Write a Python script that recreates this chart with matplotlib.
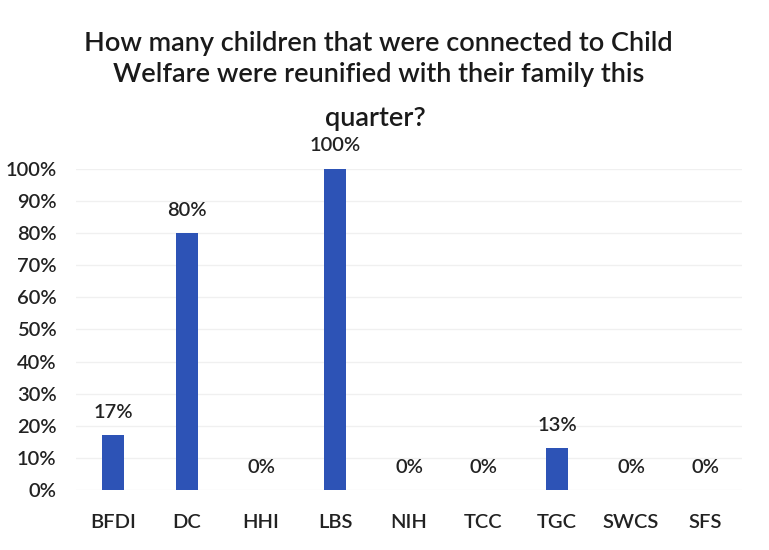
import matplotlib.pyplot as plt
from matplotlib.ticker import PercentFormatter

plt.rcParams['font.family'] = ['Lato', 'DejaVu Sans']
plt.rcParams['font.weight'] = 'semibold'

programs = ["BFDI", "DC", "HHI", "LBS", "NIH", "TCC", "TGC", "SWCS", "SFS"]
reunified = [17, 80, 0, 100, 0, 0, 13, 0, 0]
labels = ["17%", "80%", "0%", "100%", "0%", "0%", "13%", "0%", "0%"]
yticks = list(range(0, 101, 10))

fig = plt.figure(figsize=(7.69, 5.5), dpi=100)
ax = fig.add_axes([0.099, 0.109, 0.866, 0.584])

x = range(len(programs))
ax.bar(x, reunified, width=0.3, color="#2d53b6", zorder=2)

for i, (v, lab) in enumerate(zip(reunified, labels)):
    ax.text(i, v + 4.5, lab, ha="center", va="bottom", fontsize=14.5,
            color="#222222", clip_on=False)

ax.set_xlim(-0.5, len(programs) - 0.5)
ax.set_ylim(0, 100)
ax.set_yticks(yticks)
ax.yaxis.set_major_formatter(PercentFormatter(decimals=0))
ax.set_xticks(list(x))
ax.set_xticklabels(programs)
ax.tick_params(length=0, labelsize=14.5, labelcolor="#222222")
ax.tick_params(axis="x", pad=17)
ax.tick_params(axis="y", pad=14)
ax.grid(axis="y", color="#f0f0f0", linewidth=1, zorder=0)
for s in ax.spines.values():
    s.set_visible(False)

fig.text(0.492, 0.892, "How many children that were connected to Child\nWelfare were reunified with their family this",
         ha="center", va="center", fontsize=19.5, color="#1a1a1a", linespacing=1.3)
fig.text(0.488, 0.785, "quarter?", ha="center", va="center", fontsize=19.5, color="#1a1a1a")

fig.savefig("out.png", dpi=100, facecolor="white")
